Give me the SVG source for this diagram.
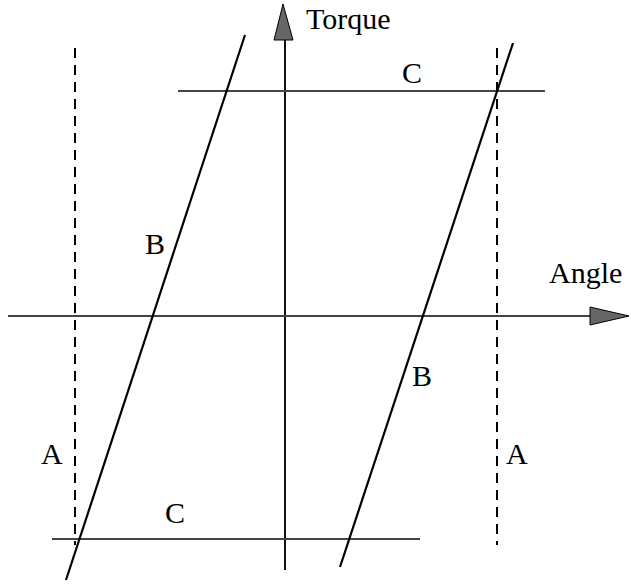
<svg xmlns="http://www.w3.org/2000/svg" width="631" height="585" viewBox="0 0 631 585">
<style>
.lbl{font-family:"Liberation Serif","Times New Roman",serif;font-size:30px;fill:#000}
.axis{stroke:#111;stroke-width:2;fill:none}
.hline{stroke:#444;stroke-width:2.2;fill:none}
.slant{stroke:#000;stroke-width:2.2;fill:none}
.dash{stroke:#000;stroke-width:2;stroke-dasharray:10 7;fill:none}
.head{fill:#666;stroke:#000;stroke-width:1}
</style>
<rect width="631" height="585" fill="#fff"/>
<g id="connectors">
<line id="v-axis" class="axis" x1="285" y1="570" x2="285" y2="30"/>
<polygon class="head" points="283,4 274,40 293,40"/>
<line id="h-axis" class="hline" x1="8" y1="316" x2="595" y2="316"/>
<polygon class="head" points="629,316 590,307 590,325"/>
<line id="c-top" class="hline" x1="178" y1="91" x2="545" y2="91"/>
<line id="c-bottom" class="hline" x1="52" y1="539" x2="420" y2="539"/>
<line id="b-left" class="slant" x1="245" y1="35" x2="66" y2="580"/>
<line id="b-right" class="slant" x1="513" y1="43" x2="340" y2="567"/>
<line id="a-left" class="dash" x1="75" y1="48" x2="75" y2="545"/>
<line id="a-right" class="dash" x1="497" y1="48" x2="497" y2="545"/>
</g>
<g id="label-torque"><text class="lbl" x="306" y="29">Torque</text></g>
<g id="label-angle"><text class="lbl" x="549" y="283">Angle</text></g>
<g id="label-c-top"><text class="lbl" x="402" y="83">C</text></g>
<g id="label-c-bottom"><text class="lbl" x="165" y="523">C</text></g>
<g id="label-b-left"><text class="lbl" x="145" y="254">B</text></g>
<g id="label-b-right"><text class="lbl" x="412" y="386">B</text></g>
<g id="label-a-left"><text class="lbl" x="41" y="464">A</text></g>
<g id="label-a-right"><text class="lbl" x="506" y="464">A</text></g>
</svg>
